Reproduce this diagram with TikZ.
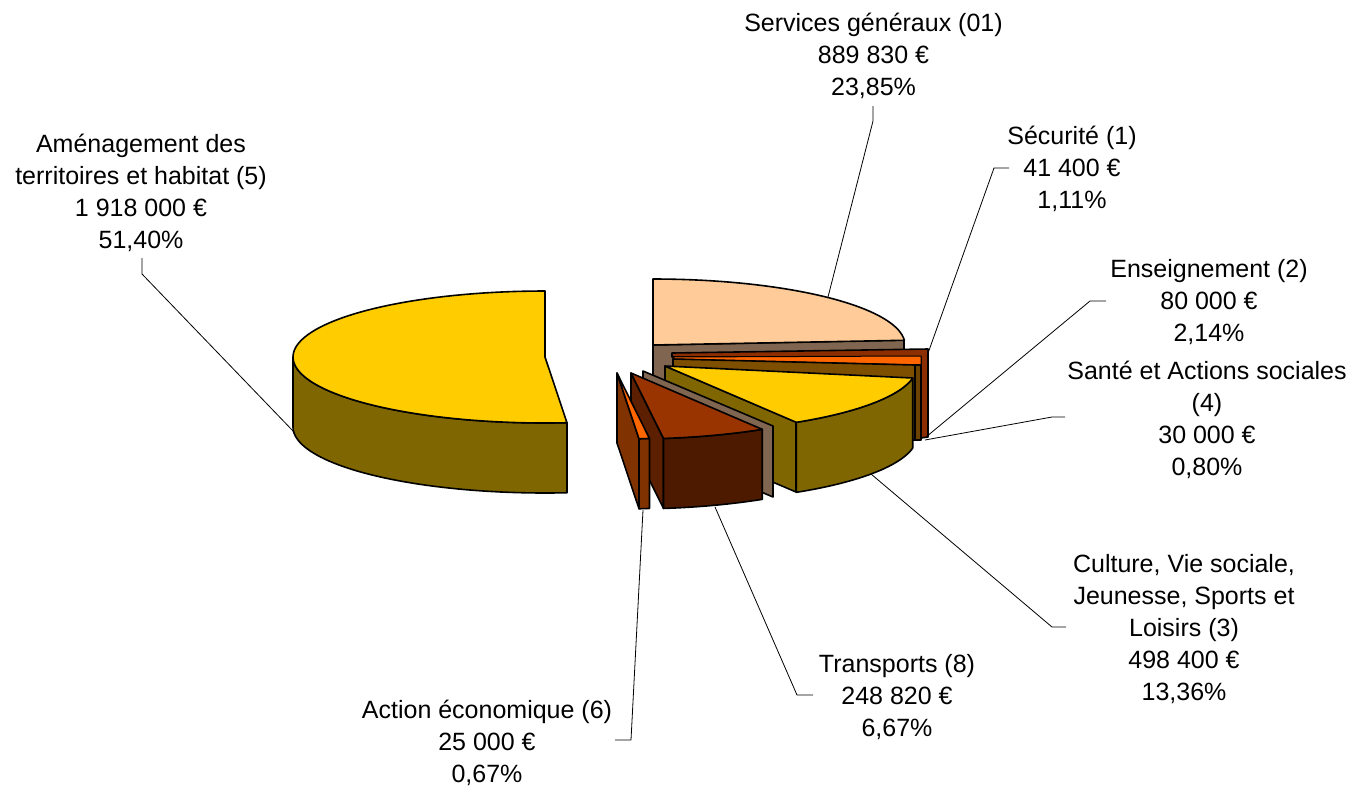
\documentclass[tikz,border=0pt]{standalone}
\usepackage{fontspec}
\setmainfont{Liberation Sans}
\definecolor{yel}{HTML}{FFCC00}
\definecolor{olv}{HTML}{806600}
\definecolor{peach}{HTML}{FFCC99}
\definecolor{peachside}{HTML}{806650}
\definecolor{brick}{HTML}{993300}
\definecolor{brickfront}{HTML}{4D1A00}
\definecolor{brickleft}{HTML}{5C1F00}
\definecolor{orng}{HTML}{FF6600}
\definecolor{orngside}{HTML}{803300}
\definecolor{darkred}{HTML}{8C2E00}
\definecolor{brwn}{HTML}{7F4F00}
\definecolor{brwnedge}{HTML}{6B4200}
\begin{document}
\begin{tikzpicture}[x=1pt,y=-1pt,
  face/.style={draw=black, line width=1.6pt, line join=round},
  lbl/.style={align=center, inner sep=0pt, font=\fontsize{25}{32}\selectfont},
  leader/.style={draw=black, line width=0.8pt}]
\useasboundingbox (0,0) rectangle (1350,788);

% ---------- Services generaux (01) ----------
\path[face, fill=peachside] (653,345) -- (904,340) -- (904,410) -- (653,415) -- cycle;
\path[face, fill=peach] (653,345) -- (653,279)
  -- plot[domain=90:4.1,samples=40] ({653+252*cos(\x)},{345-66*sin(\x)}) -- cycle;

% ---------- right stack (Securite, Enseignement, Sante) ----------
\path[face, fill=darkred] (672,353) -- (928,349) -- (928,437) -- (921,438) -- (921,357) -- (672,357) -- cycle;
\path[face, fill=orng, line width=1pt] (673,357) -- (921,356) -- (921,365) -- (673,359) -- cycle;
\path[face, fill=brwn] (673,359) -- (915,365) -- (915,440) -- (673,434) -- cycle;
\path[face, fill=brwnedge] (915,365) -- (921,365) -- (921,440) -- (915,440) -- cycle;

% ---------- Culture (3) ----------
\path[face, fill=olv] (665,366) -- (796,422) -- (796,492) -- (665,436) -- cycle;
\path[face, fill=olv] plot[domain=-58.6:-10.5,samples=30] ({665+252*cos(\x)},{366-66*sin(\x)})
  -- plot[domain=-10.5:-58.6,samples=30] ({665+252*cos(\x)},{436-66*sin(\x)}) -- cycle;
\path[face, fill=yel] (665,366)
  -- plot[domain=-10.5:-58.6,samples=30] ({665+252*cos(\x)},{366-66*sin(\x)}) -- cycle;

% ---------- strip between Culture and Transports ----------
\path[face, fill=peachside] (643,371) -- (773,426) -- (773,497) -- (643,442) -- cycle;

% ---------- Transports (8) ----------
\path[face, fill=brickleft] (631,373) -- (663.5,438.4) -- (663.5,508.4) -- (631,443) -- cycle;
\path[face, fill=brickfront] plot[domain=-82.6:-58.6,samples=20] ({631+252*cos(\x)},{373-66*sin(\x)})
  -- plot[domain=-58.6:-82.6,samples=20] ({631+252*cos(\x)},{443-66*sin(\x)}) -- cycle;
\path[face, fill=brick] (631,373)
  -- plot[domain=-58.6:-82.6,samples=20] ({631+252*cos(\x)},{373-66*sin(\x)}) -- cycle;

% ---------- Action economique (6) ----------
\path[face, fill=orngside] (617,373) -- (639,438.7) -- (639,508.7) -- (617,443) -- cycle;
\path[face, fill=orngside] plot[domain=-85:-82.6,samples=5] ({617+252*cos(\x)},{373-66*sin(\x)})
  -- plot[domain=-82.6:-85,samples=5] ({617+252*cos(\x)},{443-66*sin(\x)}) -- cycle;
\path[face, fill=orng] (617,373)
  -- plot[domain=-82.6:-85,samples=5] ({617+252*cos(\x)},{373-66*sin(\x)}) -- cycle;

% ---------- Amenagement (5) ----------
\path[face, fill=olv] plot[domain=180:275,samples=50] ({545+252*cos(\x)},{357-66*sin(\x)})
  -- plot[domain=275:180,samples=50] ({545+252*cos(\x)},{427-66*sin(\x)}) -- cycle;
\path[face, fill=yel] (545,357) -- (545,291)
  -- plot[domain=90:275,samples=80] ({545+252*cos(\x)},{357-66*sin(\x)}) -- cycle;

% ---------- labels ----------
\node[lbl] (serv) at (873.5,56) {Services généraux (01)\\889 830 €\\23,85\%};
\node[lbl] (secu) at (1072,169) {Sécurité (1)\\41 400 €\\1,11\%};
\node[lbl] (ens) at (1209,302) {Enseignement (2)\\80 000 €\\2,14\%};
\node[lbl] (sante) at (1207,420) {Santé et Actions sociales\\(4)\\30 000 €\\0,80\%};
\node[lbl] (cult) at (1184,629) {Culture, Vie sociale,\\Jeunesse, Sports et\\Loisirs (3)\\498 400 €\\13,36\%};
\node[lbl] (trans) at (897,697) {Transports (8)\\248 820 €\\6,67\%};
\node[lbl] (act) at (487,743) {Action économique (6)\\25 000 €\\0,67\%};
\node[lbl] (amen) at (141,193) {Aménagement des\\territoires et habitat (5)\\1 918 000 €\\51,40\%};

% ---------- leader lines ----------
\coordinate (amenA) at (142,258); \coordinate (amenB) at (142,274); \coordinate (amenE) at (294,432);
\coordinate (servA) at (873,106); \coordinate (servB) at (873,121); \coordinate (servE) at (828,297);
\coordinate (secuA) at (1009,168); \coordinate (secuB) at (994,168); \coordinate (secuE) at (927,356);
\coordinate (ensA) at (1106,301); \coordinate (ensB) at (1090,301); \coordinate (ensE) at (926,437);
\coordinate (santeA) at (1065,417); \coordinate (santeB) at (1052,417); \coordinate (santeE) at (925,440);
\coordinate (cultA) at (1066,627); \coordinate (cultB) at (1052,627); \coordinate (cultE) at (871,474);
\coordinate (transA) at (813,695); \coordinate (transB) at (797,695); \coordinate (transE) at (715,507);
\coordinate (actA) at (615,740); \coordinate (actB) at (631,740); \coordinate (actE) at (643,510);
\draw[leader] (amenA) -- (amenB) -- (amenE);
\draw[leader] (servA) -- (servB) -- (servE);
\draw[leader] (secuA) -- (secuB) -- (secuE);
\draw[leader] (ensA) -- (ensB) -- (ensE);
\draw[leader] (santeA) -- (santeB) -- (santeE);
\draw[leader] (cultA) -- (cultB) -- (cultE);
\draw[leader] (transA) -- (transB) -- (transE);
\draw[leader] (actA) -- (actB) -- (actE);
\end{tikzpicture}
\end{document}
